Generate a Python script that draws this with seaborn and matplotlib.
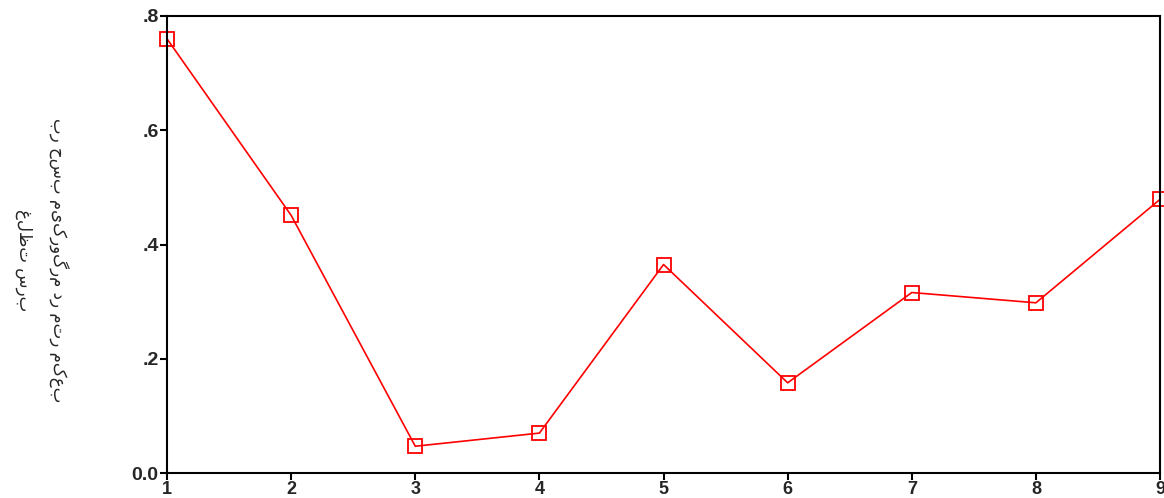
import matplotlib
matplotlib.use("Agg")
import matplotlib.pyplot as plt
import seaborn as sns
import pandas as pd

# Values
stations = [1, 2, 3, 4, 5, 6, 7, 8, 9]
lead_conc = [0.760, 0.451, 0.047, 0.070, 0.365, 0.158, 0.316, 0.298, 0.479]
y_ticks = [0.0, 0.2, 0.4, 0.6, 0.8]
y_tick_labels = ["0.0", ".2", ".4", ".6", ".8"]
label_line1 = "غلظت سرب"
label_line2 = "بر حسب میکروگرم در متر مکعب"

sns.set_style("white")
plt.rcParams["font.family"] = ["Liberation Sans", "DejaVu Sans"]

df = pd.DataFrame({"station": stations, "conc": lead_conc})

fig, ax = plt.subplots(figsize=(11.64, 4.98), dpi=100)
fig.subplots_adjust(left=0.1435, right=0.9966, top=0.968, bottom=0.05)

sns.lineplot(data=df, x="station", y="conc", ax=ax, color="#ff0000", lw=1.2,
             marker="s", markersize=10, markerfacecolor="none",
             markeredgecolor="#ff0000", markeredgewidth=1.3, clip_on=False)

ax.set_xlim(1, 9)
ax.set_ylim(0, 0.8)
ax.set_xticks(stations)
ax.set_xticklabels([str(s) for s in stations], fontweight="bold", fontsize=13)
ax.set_yticks(y_ticks)
ax.set_yticklabels(y_tick_labels, fontweight="bold", fontsize=14)
ax.tick_params(axis="both", direction="out", length=5, width=1.5, color="black",
               bottom=True, left=True, pad=1)
for s in ax.spines.values():
    s.set_color("black")
    s.set_linewidth(1.5)
ax.set_xlabel("")
ax.set_ylabel("")

# Label reads top-to-bottom, as in the reference
fig.text(0.021, 0.478, label_line1, rotation=-90, ha="center", va="center",
         fontsize=12, family=["DejaVu Sans"])
fig.text(0.050, 0.478, label_line2, rotation=-90, ha="center", va="center",
         fontsize=12, family=["DejaVu Sans"])

fig.savefig("out.png", dpi=100)
